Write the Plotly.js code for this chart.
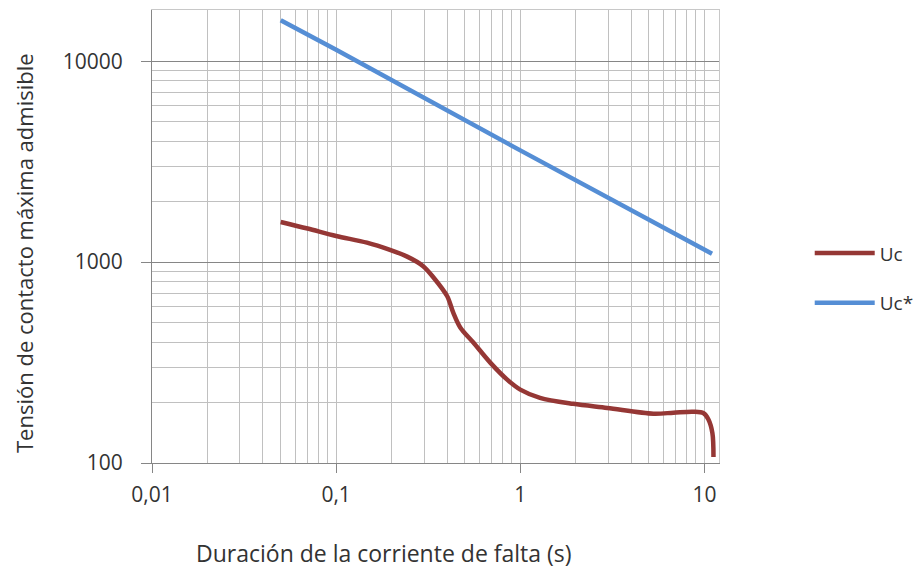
<!DOCTYPE html>
<html><head><meta charset="utf-8">
<script src="https://cdn.plot.ly/plotly-3.0.1.min.js"></script>
<style>html,body{margin:0;padding:0;background:#fff}</style>
</head><body><div id="chart" style="width:916px;height:572px"></div>
<script>
// Uc curve (duration s, voltage V)
const ucT = [0.05, 0.07, 0.1, 0.147, 0.196, 0.243, 0.297, 0.337, 0.401, 0.432, 0.472, 0.556, 0.687, 0.849, 1.0, 1.28, 1.94, 2.97, 5.28, 6.79, 8.7, 9.9, 10.5, 11.05, 11.2];
const ucV = [1585, 1470, 1350, 1250, 1150, 1065, 955, 841, 676, 562, 473, 398, 316, 260, 232, 211, 197, 188, 176, 178, 180, 177, 165, 141, 107];
// Uc* curve
const ucStarT = [0.05, 0.1, 1, 10, 11];
const ucStarV = [16000, 11400, 3600, 1150, 1100];
// tick / grid values
const xMajor = [0.01, 0.1, 1, 10];
const xMajorText = ['0,01', '0,1', '1', '10'];
const xMinor = [0.02,0.03,0.04,0.05,0.06,0.07,0.08,0.09,0.2,0.3,0.4,0.5,0.6,0.7,0.8,0.9,2,3,4,5,6,7,8,9];
const yMajor = [100, 1000, 10000];
const yMajorText = ['100', '1000', '10000'];
const yMinor = [200,300,400,500,600,700,800,900,2000,3000,4000,5000,6000,7000,8000,9000];

const xRange = [-2, Math.log10(12)];
const yRange = [2, Math.log10(18000)];
const txtColor = '#333333';
const tickFont = {family: 'Open Sans', size: 21, color: txtColor};

const traces = [
  {x: ucT, y: ucV, name: 'Uc', mode: 'lines', legendgroup: 'a',
   line: {color: '#953735', width: 4.5, shape: 'spline', smoothing: 0.9}, xaxis: 'x', yaxis: 'y'},
  {x: ucStarT, y: ucStarV, name: 'Uc*', mode: 'lines', legendgroup: 'b',
   line: {color: '#558ed5', width: 4.5}, xaxis: 'x', yaxis: 'y'}
];

const layout = {
  width: 916, height: 572,
  margin: {l: 152, r: 197, t: 10, b: 109, autoexpand: false},
  paper_bgcolor: '#fff', plot_bgcolor: '#fff',
  showlegend: true,
  legend: {x: 1.16, xanchor: 'left', y: 0.505, yanchor: 'top', traceorder: 'grouped', tracegroupgap: 22,
           itemwidth: 60,
           font: {family: 'Open Sans', size: 19, color: txtColor}, bgcolor: 'rgba(0,0,0,0)'},
  xaxis: {type: 'log', range: xRange, tickmode: 'array', tickvals: xMinor, ticktext: xMinor.map(() => ''),
          showgrid: true, gridcolor: '#c0c0c0', gridwidth: 1, ticks: '', showline: true, linecolor: '#c8c8c8',
          mirror: true, zeroline: false, fixedrange: true},
  yaxis: {type: 'log', range: yRange, tickmode: 'array', tickvals: yMinor, ticktext: yMinor.map(() => ''),
          showgrid: true, gridcolor: '#c0c0c0', gridwidth: 1, ticks: '', showline: true, linecolor: '#c8c8c8',
          mirror: true, zeroline: false, fixedrange: true},
  xaxis2: {type: 'log', range: xRange, overlaying: 'x', anchor: 'y', side: 'bottom', tickmode: 'array',
           tickvals: xMajor, ticktext: xMajorText, showgrid: true, gridcolor: '#c0c0c0', ticks: 'outside',
           ticklen: 9, tickcolor: '#868686', showline: true, linecolor: '#868686', tickfont: tickFont,
           ticklabelstandoff: 4, zeroline: false},
  yaxis2: {type: 'log', range: yRange, overlaying: 'y', anchor: 'x', side: 'left', tickmode: 'array',
           tickvals: yMajor, ticktext: yMajorText, showgrid: true, gridcolor: '#868686', ticks: 'outside',
           ticklen: 10, tickcolor: '#868686', showline: true, linecolor: '#868686', tickfont: tickFont,
           ticklabelstandoff: 14, zeroline: false},
  annotations: [
    {text: 'Duración de la corriente de falta (s)', xref: 'paper', yref: 'paper',
     x: 0.409, y: -0.199, xanchor: 'center', yanchor: 'middle', showarrow: false,
     font: {family: 'Open Sans', size: 23, color: txtColor}},
    {text: 'Tensión de contacto máxima admisible', xref: 'paper', yref: 'paper', textangle: -90,
     x: -0.2257, y: 0.4636, xanchor: 'center', yanchor: 'middle', showarrow: false,
     font: {family: 'Open Sans', size: 22, color: txtColor}}
  ]
};

// invisible helper trace to activate overlay axes
traces.unshift({x: [0.01], y: [100], xaxis: 'x2', yaxis: 'y2', mode: 'markers', marker: {opacity: 0},
                showlegend: false, hoverinfo: 'skip'});

Plotly.newPlot('chart', traces, layout, {staticPlot: true});
</script></body></html>
